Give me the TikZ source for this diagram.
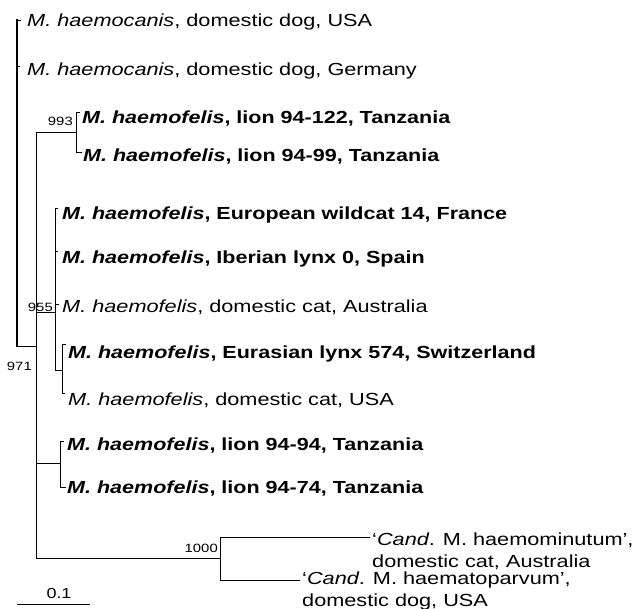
\documentclass[tikz,border=0pt]{standalone}
\usepackage{fontspec}
\setmainfont{Liberation Sans}[
  UprightFeatures={FakeStretch=1.24},
  ItalicFeatures={FakeStretch=1.24},
  BoldFeatures={FakeStretch=1.23},
  BoldItalicFeatures={FakeStretch=1.23}]
\begin{document}
\begin{tikzpicture}[x=1pt,y=-1pt,
  br/.style={line width=0.9pt,line cap=rect},
  tip/.style={anchor=base west,inner sep=0pt,font=\fontsize{17.5}{21}\selectfont},
  tip2/.style={anchor=base west,inner sep=0pt,align=left,font=\fontsize{17.5}{22}\selectfont},
  sup/.style={anchor=base east,inner sep=0pt,font=\fontsize{12}{14}\selectfont},
  scl/.style={anchor=base,inner sep=0pt,font=\fontsize{14.5}{16}\selectfont}]
\useasboundingbox (0,0) rectangle (644,609);
% tips (text)
\node[tip] (t1) at (27,27) {\textit{M. haemocanis}, domestic dog, USA};
\node[tip] (t2) at (27,76) {\textit{M. haemocanis}, domestic dog, Germany};
\node[tip] (t3) at (82,124) {\textbf{\textit{M. haemofelis}, lion 94-122, Tanzania}};
\node[tip] (t4) at (83,162) {\textbf{\textit{M. haemofelis}, lion 94-99, Tanzania}};
\node[tip] (t5) at (62,220) {\textbf{\textit{M. haemofelis}, European wildcat 14, France}};
\node[tip] (t6) at (62,263) {\textbf{\textit{M. haemofelis}, Iberian lynx 0, Spain}};
\node[tip] (t7) at (62,312) {\textit{M. haemofelis}, domestic cat, Australia};
\node[tip] (t8) at (68,358) {\textbf{\textit{M. haemofelis}, Eurasian lynx 574, Switzerland}};
\node[tip] (t9) at (68,405) {\textit{M. haemofelis}, domestic cat, USA};
\node[tip] (t10) at (67,450) {\textbf{\textit{M. haemofelis}, lion 94-94, Tanzania}};
\node[tip] (t11) at (67,493) {\textbf{\textit{M. haemofelis}, lion 94-74, Tanzania}};
\node[tip2] (t12) at (372,567) {‘\textit{Cand}. M. haemominutum’,\\domestic cat, Australia};
\node[tip2] (t13) at (302,606) {‘\textit{Cand}. M. haematoparvum’,\\domestic dog, USA};
% coordinates of tree
\coordinate (r1) at (17,20);
\coordinate (r2) at (17,346);
\coordinate (a1) at (36,132);
\coordinate (a2) at (36,558);
\coordinate (b1) at (76,112);
\coordinate (b2) at (76,152);
\coordinate (c1) at (55,208);
\coordinate (c2) at (55,370);
\coordinate (d1) at (62,344);
\coordinate (d2) at (62,393);
\coordinate (e1) at (60,441);
\coordinate (e2) at (60,487);
\coordinate (f1) at (220,537);
\coordinate (f2) at (220,580);
% root
\draw[br,line width=1.4pt] (r1) -- (r2);
\draw[br] (r1) -- ++(4,0);
\draw[br] (17,66) -- ++(3,0);
\draw[br] (r2) -- (36,346);
% 971 clade
\draw[br] (a1) -- (a2);
\draw[br] (a1) -- (76,132);
\draw[br] (b1) -- (b2);
\draw[br] (b1) -- ++(4,0);
\draw[br] (b2) -- ++(6,0);
\draw[br] (36,312) -- (55,312);
\draw[br] (c1) -- (c2);
\draw[br] (c1) -- ++(3,0);
\draw[br] (55,251) -- ++(3,0);
\draw[br] (55,304) -- ++(4,0);
\draw[br] (c2) -- (62,370);
\draw[br] (d1) -- (d2);
\draw[br] (d1) -- ++(4,0);
\draw[br] (d2) -- ++(3,0);
\draw[br] (36,463) -- (60,463);
\draw[br] (e1) -- (e2);
\draw[br] (e1) -- ++(4,0);
\draw[br] (e2) -- ++(6,0);
\draw[br] (a2) -- (220,558);
\draw[br] (f1) -- (f2);
\draw[br] (f1) -- (370,537);
\draw[br] (f2) -- (300,580);
% support values
\node[sup] (s1) at (73,126) {993};
\node[sup] (s2) at (53,311) {955};
\node[sup] (s3) at (32,370) {971};
\node[sup] (s4) at (218,552) {1000};
% scale bar
\coordinate (sb1) at (17,604);
\coordinate (sb2) at (90,604);
\draw[br] (sb1) -- (sb2);
\node[scl] (sl) at (59,598) {0.1};
\end{tikzpicture}
\end{document}
